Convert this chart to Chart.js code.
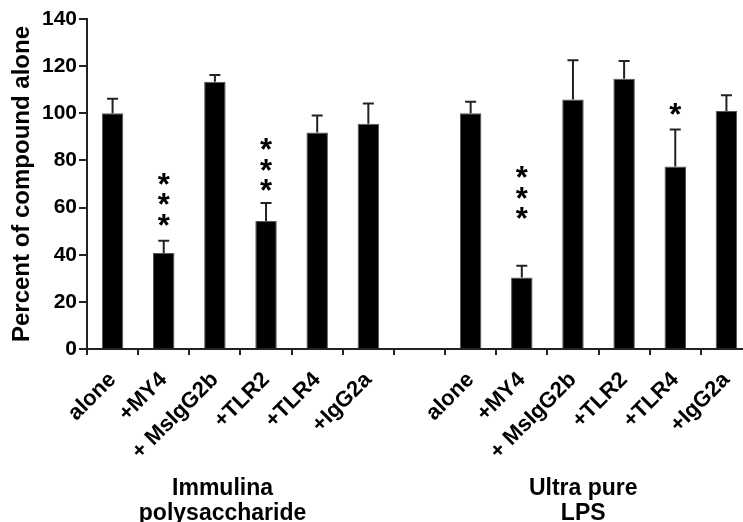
<!DOCTYPE html>
<html>
<head>
<meta charset="utf-8">
<script src="https://cdn.jsdelivr.net/npm/chart.js@4.4.1/dist/chart.umd.min.js"></script>
<style>
  html, body { margin: 0; padding: 0; background: #fff; overflow: hidden; }
  #wrap { width: 760px; height: 522px; }
</style>
</head>
<body>
<div id="wrap"><canvas id="chart" width="760" height="522"></canvas></div>
<script>
// bar labels, the empty slot is the gap between the two groups
const categories = ['alone', '+MY4', '+ MsIgG2b', '+TLR2', '+TLR4', '+IgG2a',
                    '',
                    'alone', '+MY4', '+ MsIgG2b', '+TLR2', '+TLR4', '+IgG2a'];
const means = [100, 40.7, 113.4, 54.3, 91.8, 95.6,
               null,
               100, 30.3, 105.9, 114.7, 77.4, 101];
const sem = [6.2, 5.2, 2.8, 7.6, 7.3, 8.6,
             null,
             4.9, 5.0, 16.6, 7.5, 15.7, 6.6];
const stars = ['', '***', '', '***', '', '',
               '',
               '', '***', '', '', '*', ''];
// value where the lowest asterisk of each stack sits
const starLevel = [null, 55.6, null, 70.4, null, null,
                   null,
                   null, 58.5, null, null, 102.7, null];
const groupNames = [['Immulina', 'polysaccharide'], ['Ultra pure', 'LPS']];
const yTicks = [0, 20, 40, 60, 80, 100, 120, 140];

const FONT = '"Liberation Sans", Arial, Helvetica, sans-serif';
const INK = '#222';

const errorBars = {
  id: 'errorBars',
  afterDatasetsDraw(chart) {
    const ctx = chart.ctx;
    const y = chart.scales.y;
    const meta = chart.getDatasetMeta(0);
    ctx.save();
    ctx.strokeStyle = INK;
    ctx.lineWidth = 2;
    meta.data.forEach((bar, i) => {
      if (means[i] == null) return;
      const top = y.getPixelForValue(means[i] + sem[i]);
      const base = y.getPixelForValue(means[i]);
      ctx.beginPath();
      ctx.moveTo(bar.x, base);
      ctx.lineTo(bar.x, top);
      ctx.moveTo(bar.x - 5.5, top);
      ctx.lineTo(bar.x + 5.5, top);
      ctx.stroke();
    });
    // significance marks
    ctx.fillStyle = '#000';
    ctx.font = 'bold 31px ' + FONT;
    ctx.textAlign = 'center';
    ctx.textBaseline = 'alphabetic';
    meta.data.forEach((bar, i) => {
      if (!stars[i]) return;
      const low = y.getPixelForValue(starLevel[i]);
      for (let k = 0; k < stars[i].length; k++) {
        ctx.fillText('*', bar.x, low - k * 20.5 + 18);
      }
    });
    ctx.restore();
  }
};

const groupLabels = {
  id: 'groupLabels',
  afterDraw(chart) {
    const ctx = chart.ctx;
    const x = chart.scales.x;
    const centers = [x.getPixelForValue(2.15), x.getPixelForValue(9.2)];
    ctx.save();
    ctx.fillStyle = '#000';
    ctx.font = 'bold 23px ' + FONT;
    ctx.textAlign = 'center';
    ctx.textBaseline = 'alphabetic';
    groupNames.forEach((lines, g) => {
      lines.forEach((t, k) => ctx.fillText(t, centers[g], 495 + k * 25));
    });
    ctx.restore();
  }
};

new Chart(document.getElementById('chart'), {
  type: 'bar',
  data: {
    labels: categories,
    datasets: [{
      data: means,
      backgroundColor: '#000',
      borderColor: '#555',
      borderWidth: 1,
      barPercentage: 0.42,
      categoryPercentage: 1.0
    }]
  },
  options: {
    responsive: false,
    animation: false,
    layout: { padding: { top: 19, right: 8, left: 0, bottom: 0 } },
    plugins: { legend: { display: false }, tooltip: { enabled: false } },
    scales: {
      x: {
        offset: true,
        grid: { display: true, drawOnChartArea: false, drawTicks: true, tickLength: 6,
                offset: true, color: INK, lineWidth: 2 },
        border: { display: true, color: INK, width: 2 },
        ticks: {
          autoSkip: false,
          maxRotation: 45,
          minRotation: 45,
          padding: 12,
          color: '#000',
          font: { family: FONT, size: 22, weight: 'bold' }
        },
        afterFit(scale) { scale.height = 173; }
      },
      y: {
        min: 0,
        max: 140,
        afterBuildTicks(scale) { scale.ticks = yTicks.map(v => ({ value: v })); },
        grid: { display: true, drawOnChartArea: false, drawTicks: true, tickLength: 8,
                color: INK, lineWidth: 2 },
        border: { display: true, color: INK, width: 2 },
        ticks: {
          padding: 2,
          color: '#000',
          font: { family: FONT, size: 21, weight: 'bold' }
        },
        title: {
          display: true,
          text: 'Percent of compound alone',
          color: '#000',
          padding: { top: 8, bottom: 0 },
          font: { family: FONT, size: 24, weight: 'bold' }
        },
        afterFit(scale) { scale.width = 87; }
      }
    }
  },
  plugins: [errorBars, groupLabels]
});
</script>
</body>
</html>
